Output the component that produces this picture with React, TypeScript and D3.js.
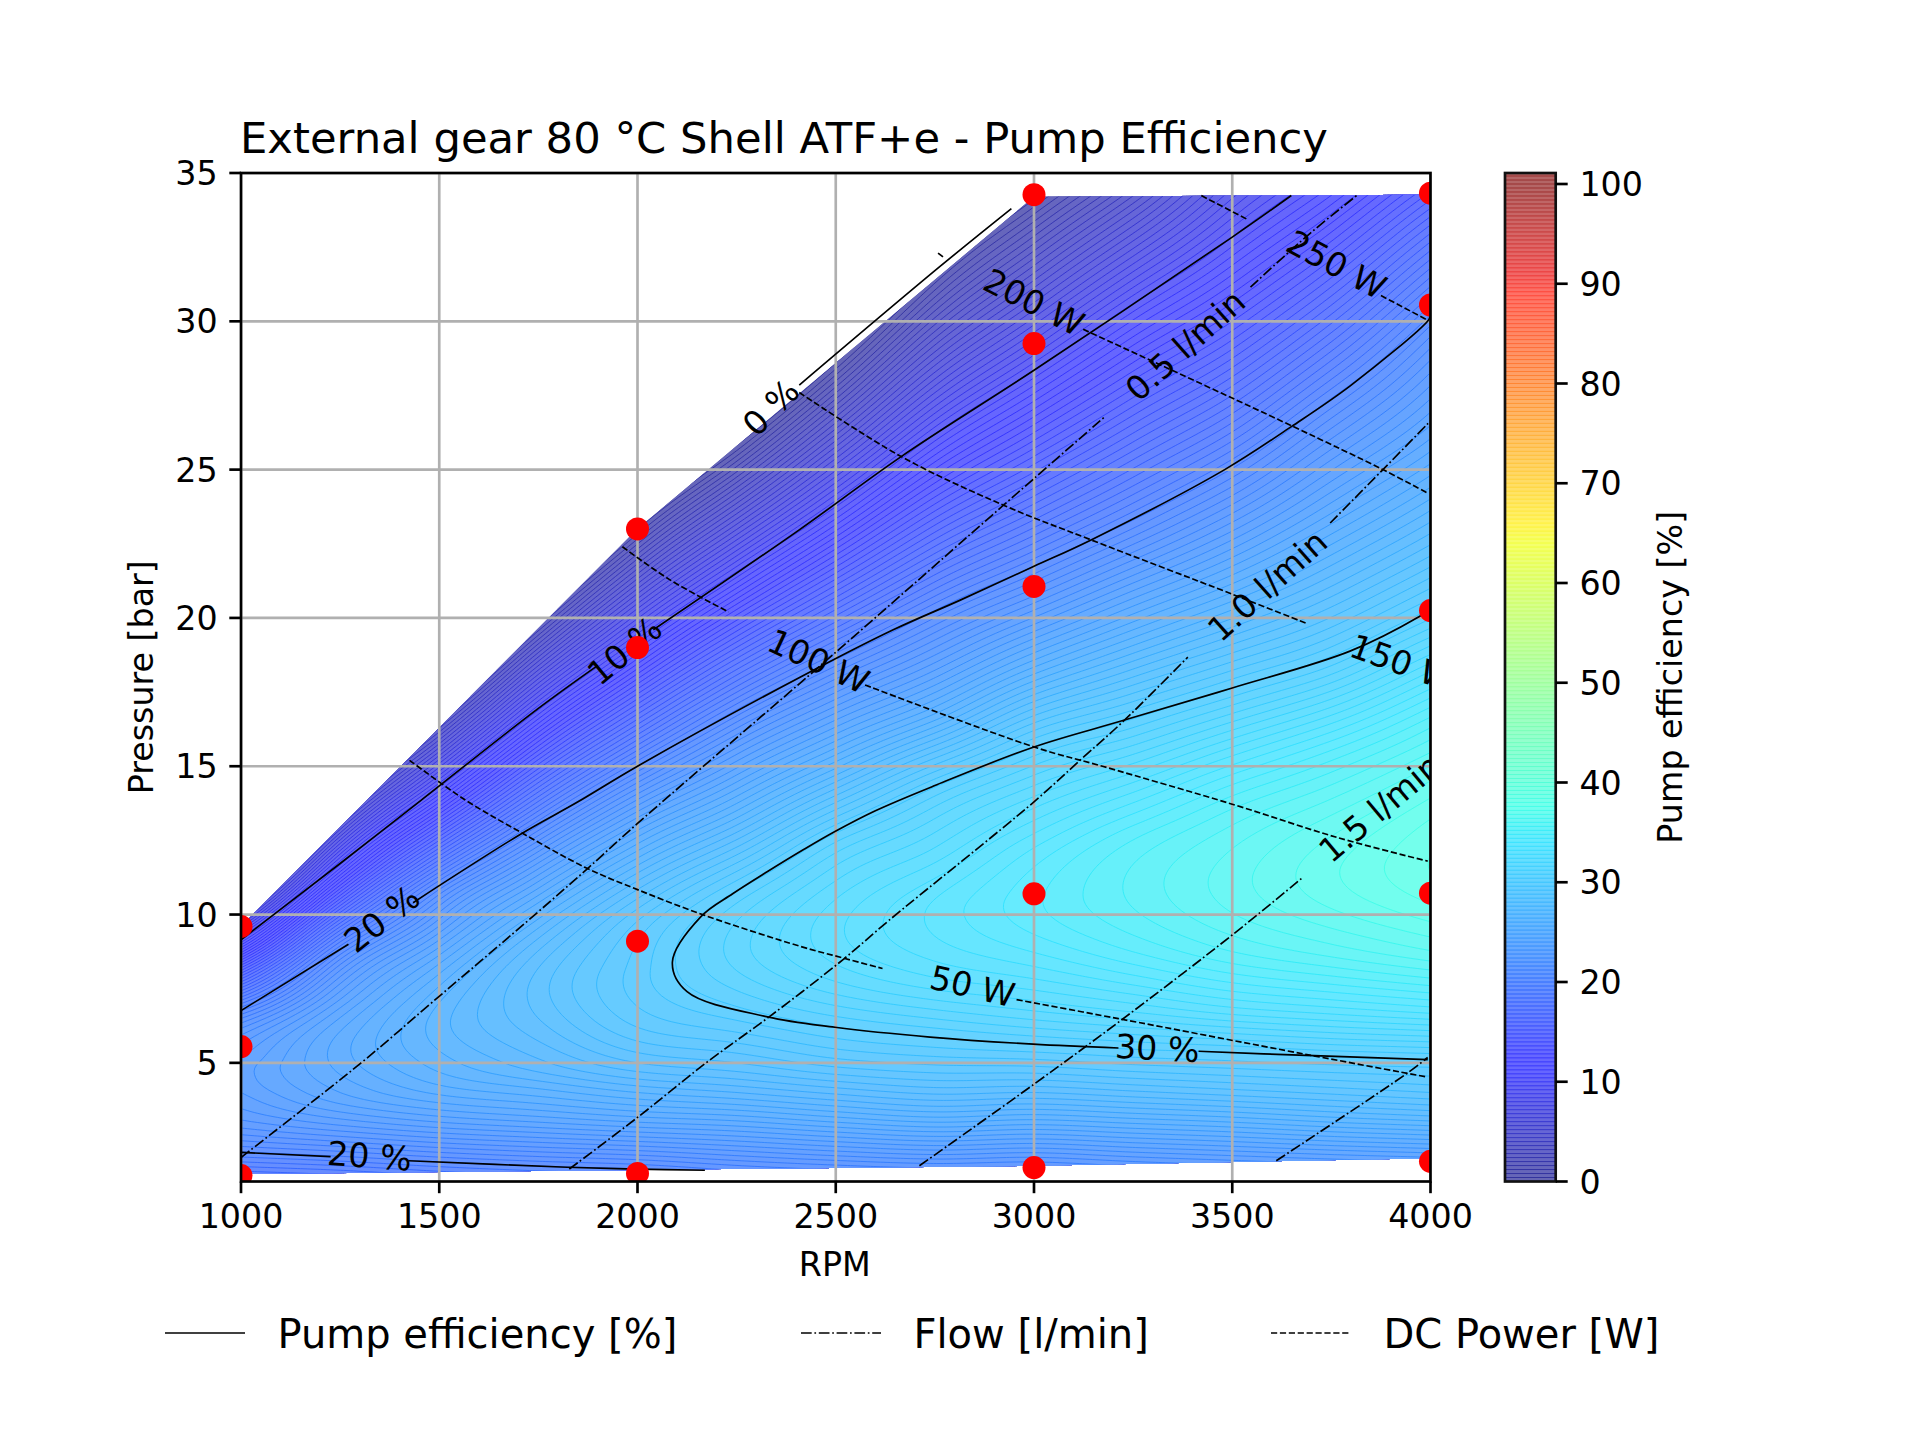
import { useMemo } from "react";
import * as d3 from "d3";

const titleText = "External gear 80 °C Shell ATF+e - Pump Efficiency";
const rpmTicks = [1000, 1500, 2000, 2500, 3000, 3500, 4000];
const pressureTicks = [5, 10, 15, 20, 25, 30, 35];
const barTicks = [0, 10, 20, 30, 40, 50, 60, 70, 80, 90, 100];

// measured operating points [rpm, bar]
const measured: [number, number][] = [
  [1000, 1.2], [1000, 5.55], [1000, 9.6],
  [2000, 1.27], [2000, 9.1], [2000, 19.0], [2000, 23.0],
  [3000, 1.47], [3000, 10.7], [3000, 21.06], [3000, 29.25], [3000, 34.27],
  [4000, 1.68], [4000, 10.72], [4000, 20.25], [4000, 30.55], [4000, 34.32],
];
// outline of the filled area
const fieldOutline: [number, number][] = [
  [1000, 1.25], [2000, 1.39], [3000, 1.53], [4000, 1.78], [4000, 34.27], [3000, 34.2], [2000, 23], [1000, 9.6],
];

// efficiency read along each rpm column: [bar, %]
const effColumnRpm = [1000, 1250, 1500, 1750, 2000, 2250, 2500, 2750, 3000, 3250, 3500, 3750, 4000];
const eff1000 = [[1, 17.5], [2, 20], [3, 21.9], [4, 22.8], [4.5, 23], [5, 22.9], [6, 21.9], [6.76, 20], [8, 15.3], [9.15, 10], [11.2, 1], [37, -100]];
const eff1250 = [[1, 17.8], [1.85, 20], [3, 22.6], [4, 24], [5.6, 24.6], [7, 23.4], [8.8, 20], [11.8, 10], [14.8, 0], [37, -70]];
const eff1500 = [[1, 18.3], [1.66, 20], [3, 23.2], [4, 24.9], [5, 25.8], [6.5, 26.2], [8, 25.2], [9.5, 23], [11, 20], [14.3, 10], [17.6, 0], [37, -60]];
const eff1750 = [[1, 18.7], [1.52, 20], [3, 23.6], [4, 25.4], [5, 26.7], [7.3, 27.8], [9, 27], [11, 24.2], [13, 20], [16.9, 10], [20.6, 0], [37, -44]];
const eff2000 = [[1, 19], [1.42, 20], [3, 24], [4, 26], [5, 27.6], [6.5, 29], [8.1, 29.4], [10, 28.6], [12.5, 25], [15, 20], [19.3, 10], [23.5, 0], [37, -32]];
const eff2250 = [[1, 19.5], [1.5, 20.7], [3, 24.3], [4, 26.4], [5, 28], [6.9, 30], [8.9, 31], [10.8, 30], [13.5, 26], [16.9, 20], [21.55, 10], [26, 0], [37, -24]];
const eff2500 = [[1, 19.8], [3, 24.8], [4, 26.9], [5, 28.6], [6.2, 30], [8, 31.8], [9.5, 32.3], [11, 31.7], [12.75, 30], [15.5, 25.4], [18.6, 20], [23.75, 10], [28.8, 0], [37, -16]];
const eff2750 = [[1, 20], [3, 25.2], [4, 27.3], [5, 28.9], [5.85, 30], [8, 32.5], [10.1, 33.3], [12, 32.2], [14.3, 30], [17, 25.2], [20.25, 20], [26.2, 10], [32, 0], [37, -8]];
const eff3000 = [[1, 20], [1.5, 21.2], [3, 25], [4, 27.2], [5, 29], [5.63, 30], [7, 31.9], [9, 33.8], [10.6, 34.3], [12.5, 33.4], [15.65, 30], [18.7, 25], [21.74, 20], [28.35, 10], [34.6, 0], [37, -4]];
const eff3250 = [[1, 20.3], [3, 25.3], [4, 27.5], [5, 29.3], [5.46, 30], [7, 32.4], [9, 34.6], [11.1, 35.3], [13, 34.4], [16.6, 30], [20, 25], [23.3, 20], [30.6, 10], [37, 0]];
const eff3500 = [[1, 20.6], [3, 25.6], [4, 27.8], [5, 29.5], [5.35, 30], [7, 33], [9, 35.4], [11.4, 36.2], [14, 34.8], [17.64, 30], [21.3, 25], [25.04, 20], [32.84, 10], [37, 5]];
const eff3750 = [[1, 20.8], [3, 26], [4, 28.1], [5, 29.7], [5.2, 30], [7, 33.4], [9, 36], [11.7, 37.1], [15, 35], [18.7, 30], [23, 25], [27.4, 20], [35.2, 10], [37, 8]];
const eff4000 = [[1, 21], [3, 26.3], [4, 28.4], [5.1, 30], [7, 33.8], [9, 36.6], [12, 38], [16, 35.5], [20.3, 30], [25, 25], [30.2, 20], [36, 12], [37, 10]];
const effColumns = [eff1000, eff1250, eff1500, eff1750, eff2000, eff2250, eff2500, eff2750, eff3000, eff3250, eff3500, eff3750, eff4000];

// iso-lines, [rpm, bar], split where a label sits
const effLines: [number, number][][] = [
  [[2408, 27.85], [2763, 31.85], [2943, 33.8]],
  [[1000, 9.15], [1250, 11.72], [1454, 13.85], [1750, 16.95], [1900, 18.4]],
  [[2040, 19.6], [2408, 22.97], [2665, 25.44], [3000, 28.35], [3500, 32.84], [3649, 34.24]],
  [[1000, 6.76], [1271, 9.0]],
  [[1434, 10.4], [1704, 12.7], [1850, 13.8], [2000, 15], [2410, 18], [2645, 19.6], [2814, 20.6], [3000, 21.74], [3144, 22.63], [3481, 25], [3649, 26.45], [3800, 27.85], [3994, 30.03], [4000, 30.2]],
  [[1000, 1.98], [1226, 1.84]],
  [[1422, 1.7], [1823, 1.48], [2000, 1.42], [2170, 1.38]],
  [[3213, 5.5], [2998, 5.63], [2738, 5.87], [2498, 6.2], [2328, 6.55], [2125, 7.4], [2088, 8.4], [2160, 9.93], [2240, 10.7], [2328, 11.45], [2420, 12.2], [2498, 12.8], [2600, 13.5], [2750, 14.35], [3000, 15.65], [3224, 16.54], [3500, 17.64], [3797, 18.88], [3972, 20.05], [4000, 20.3]],
  [[3415, 5.39], [3688, 5.25], [3993, 5.11]],
];
const flowLines: [number, number][][] = [
  [[1000, 1.81], [1303, 5], [1483, 7.05], [1746, 10.05], [1874, 11.55], [2000, 13.07], [2492, 18.75], [2923, 23.8], [3000, 24.7], [3180, 26.8]],
  [[3546, 31.15], [3695, 32.95], [3814, 34.24]],
  [[1828, 1.42], [2000, 3.16], [2173, 5], [2332, 6.55], [2520, 8.5], [2634, 9.8], [3000, 13.8], [3120, 15.25], [3224, 16.5], [3388, 18.68]],
  [[3747, 23.2], [3880, 25], [3994, 26.56]],
  [[2711, 1.53], [3000, 4.28], [3218, 6.42], [3500, 9.31], [3677, 11.24]],
  [[3611, 1.7], [3939, 4.63], [3993, 5.18]],
];
const powerLines: [number, number][][] = [
  [[1425, 15.2], [1566, 13.86], [1710, 12.74], [1874, 11.55], [2000, 10.84], [2168, 9.98], [2410, 8.93], [2520, 8.53], [2618, 8.18]],
  [[2956, 7.13], [3213, 6.49], [3688, 5.28], [3993, 4.52]],
  [[1962, 22.4], [2080, 21.3], [2230, 20.2]],
  [[2574, 17.74], [3000, 15.65], [3175, 14.99], [3500, 13.72], [3764, 12.6], [3993, 11.8]],
  [[2408, 27.6], [2665, 25.44], [2923, 23.8], [3144, 22.63], [3500, 20.8], [3690, 19.8]],
  [[3124, 29.73], [3654, 26.45], [3880, 25], [3994, 24.2]],
  [[3422, 34.24], [3536, 33.45]],
  [[3875, 30.87], [3994, 30.03]],
  [[2758, 32.3], [2773, 32.15]],
];
const lineLabels: { text: string; rpm: number; bar: number; angle: number }[] = [
  { text: "0 %", rpm: 2336, bar: 27.1, angle: -45 },
  { text: "10 %", rpm: 1967, bar: 18.9, angle: -40 },
  { text: "20 %", rpm: 1355, bar: 9.86, angle: -38 },
  { text: "20 %", rpm: 1324, bar: 1.87, angle: 4 },
  { text: "30 %", rpm: 3311, bar: 5.5, angle: 3 },
  { text: "50 W", rpm: 2845, bar: 7.59, angle: 13 },
  { text: "100 W", rpm: 2457, bar: 18.55, angle: 25 },
  { text: "150 W", rpm: 3928, bar: 18.5, angle: 20 },
  { text: "200 W", rpm: 3000, bar: 30.65, angle: 27 },
  { text: "250 W", rpm: 3763, bar: 31.92, angle: 28 },
  { text: "0.5 l/min", rpm: 3381, bar: 29.2, angle: -42 },
  { text: "1.0 l/min", rpm: 3588, bar: 21.1, angle: -42 },
  { text: "1.5 l/min", rpm: 3872, bar: 13.6, angle: -40 },
];
const legendItems = [
  { label: "Pump efficiency [%]", x: 165, dash: "none" },
  { label: "Flow [l/min]", x: 801, dash: "10.7 2.7 1.7 2.7" },
  { label: "DC Power [W]", x: 1271, dash: "6.2 2.7" },
];

const jetR = d3.scaleLinear([0, 0.35, 0.66, 0.89, 1], [0, 0, 1, 1, 0.5]).clamp(true);
const jetG = d3.scaleLinear([0, 0.125, 0.375, 0.64, 0.91, 1], [0, 0, 1, 1, 0, 0]).clamp(true);
const jetB = d3.scaleLinear([0, 0.11, 0.34, 0.65, 1], [0.5, 1, 1, 0, 0]).clamp(true);
// colours sit on white with alpha, drawn opaque because the bands stack
const jetOnWhite = (v: number, alpha: number) => {
  const t = v / 100;
  const ch = (c: number) => Math.round(255 * (c * alpha + 1 - alpha));
  return d3.rgb(ch(jetR(t)), ch(jetG(t)), ch(jetB(t))).formatHex();
};

// cubic hermite through [x, y] knots with finite difference tangents
const hermite = (pts: number[][], x: number) => {
  const n = pts.length;
  const i = Math.max(0, Math.min(n - 2, d3.bisectRight(pts.map((d) => d[0]), x) - 1));
  const tangent = (k: number) => {
    const a = pts[Math.max(0, k - 1)];
    const b = pts[Math.min(n - 1, k + 1)];
    return (b[1] - a[1]) / (b[0] - a[0]);
  };
  const [x0, y0] = pts[i];
  const [x1, y1] = pts[i + 1];
  const h = x1 - x0;
  const u = (x - x0) / h;
  return (
    (2 * u * u * u - 3 * u * u + 1) * y0 +
    (u * u * u - 2 * u * u + u) * h * tangent(i) +
    (-2 * u * u * u + 3 * u * u) * y1 +
    (u * u * u - u * u) * h * tangent(i + 1)
  );
};

const width = 1920;
const height = 1440;
const margin = { top: 173, right: 1430.5, bottom: 1181.5, left: 241 };
const fontFamily = "DejaVu Sans";

export default function App() {
  const x = d3.scaleLinear([1000, 4000], [margin.left, margin.right]);
  const y = d3.scaleLinear([1, 35], [margin.bottom, margin.top]);
  const barY = d3.scaleLinear([0, 100], [1181.5, 184]);
  const levels = d3.range(0, 101, 0.4);

  const bands = useMemo(() => {
    const nx = 360;
    const ny = 340;
    const gridRpm = d3.scaleLinear([0, nx - 1], [1000, 4000]);
    const gridBar = d3.scaleLinear([0, ny - 1], [1, 37]);
    const values = new Float64Array(nx * ny);
    for (let j = 0; j < ny; j++) {
      const bar = gridBar(j);
      const col = effColumnRpm.map((r, k) => [r, hermite(effColumns[k], bar)]);
      for (let i = 0; i < nx; i++) values[j * nx + i] = hermite(col, gridRpm(i));
    }
    const toScreen = d3.geoTransform({
      point(px, py) {
        this.stream.point(x(gridRpm(px - 0.5)), y(gridBar(py - 0.5)));
      },
    });
    const path = d3.geoPath(toScreen);
    const contours = d3.contours().size([nx, ny]).thresholds(levels)(values as unknown as number[]);
    return contours
      .filter((c) => c.coordinates.length > 0)
      .map((c) => ({ value: c.value, d: path(c) ?? "" }));
  }, []);

  const line = d3
    .line<[number, number]>()
    .x((d) => x(d[0]))
    .y((d) => y(d[1]))
    .curve(d3.curveCatmullRom);
  const outlinePath = d3
    .line<[number, number]>()
    .x((d) => x(d[0]))
    .y((d) => y(d[1]))
    .curve(d3.curveLinearClosed)(fieldOutline) ?? "";

  const text = { fontFamily, fill: "#000" };

  return (
    <svg width={width} height={height} style={{ position: "absolute", left: 0, top: 0, background: "#fff" }}>
      <defs>
        <clipPath id="axes-clip">
          <rect x={margin.left} y={margin.top} width={margin.right - margin.left} height={margin.bottom - margin.top} />
        </clipPath>
        <clipPath id="hull-clip">
          <path d={outlinePath} />
        </clipPath>
      </defs>

      <text x={margin.left - 1} y={153} fontSize={43.3} {...text}>{titleText}</text>

      <g clipPath="url(#axes-clip)">
        <g clipPath="url(#hull-clip)">
          <path d={outlinePath} fill={jetOnWhite(0, 0.6)} />
          {bands.map((b) => (
            <path
              key={b.value}
              d={b.d}
              fill={jetOnWhite(b.value + 0.2, 0.6)}
              stroke={jetOnWhite(b.value, 0.84)}
              strokeWidth={0.8}
            />
          ))}
        </g>
        {/* grid */}
        {rpmTicks.map((t) => (
          <line key={t} x1={x(t)} x2={x(t)} y1={margin.top} y2={margin.bottom} stroke="#b0b0b0" strokeWidth={2.67} />
        ))}
        {pressureTicks.map((t) => (
          <line key={t} x1={margin.left} x2={margin.right} y1={y(t)} y2={y(t)} stroke="#b0b0b0" strokeWidth={2.67} />
        ))}
        {effLines.map((l, i) => (
          <path key={i} d={line(l) ?? ""} fill="none" stroke="#000" strokeWidth={1.67} />
        ))}
        {flowLines.map((l, i) => (
          <path key={i} d={line(l) ?? ""} fill="none" stroke="#000" strokeWidth={1.67} strokeDasharray="10.7 2.7 1.7 2.7" />
        ))}
        {powerLines.map((l, i) => (
          <path key={i} d={line(l) ?? ""} fill="none" stroke="#000" strokeWidth={1.67} strokeDasharray="6.2 2.7" />
        ))}
        {lineLabels.map((l, i) => (
          <text
            key={i}
            transform={`translate(${x(l.rpm)},${y(l.bar)}) rotate(${l.angle})`}
            textAnchor="middle"
            dy="0.36em"
            fontSize={33.3}
            {...text}
          >
            {l.text}
          </text>
        ))}
        {measured.map(([r, b], i) => (
          <circle key={i} cx={x(r)} cy={y(b)} r={11.5} fill="#f00" />
        ))}
      </g>

      {/* axes */}
      <rect
        x={margin.left}
        y={margin.top}
        width={margin.right - margin.left}
        height={margin.bottom - margin.top}
        fill="none"
        stroke="#000"
        strokeWidth={2.67}
      />
      {rpmTicks.map((t) => (
        <g key={t}>
          <line x1={x(t)} x2={x(t)} y1={margin.bottom} y2={margin.bottom + 11.7} stroke="#000" strokeWidth={2.67} />
          <text x={x(t)} y={1228} textAnchor="middle" fontSize={33.3} {...text}>{t}</text>
        </g>
      ))}
      {pressureTicks.map((t) => (
        <g key={t}>
          <line x1={margin.left - 11.7} x2={margin.left} y1={y(t)} y2={y(t)} stroke="#000" strokeWidth={2.67} />
          <text x={margin.left - 23.4} y={y(t)} dy="0.365em" textAnchor="end" fontSize={33.3} {...text}>{t}</text>
        </g>
      ))}
      <text x={(margin.left + margin.right) / 2 - 1} y={1276} textAnchor="middle" fontSize={33.3} {...text}>RPM</text>
      <text
        transform={`translate(153,${(margin.top + margin.bottom) / 2}) rotate(-90)`}
        textAnchor="middle"
        fontSize={33.3}
        {...text}
      >
        Pressure [bar]
      </text>

      {/* colorbar */}
      {levels.map((l) => (
        <rect
          key={l}
          x={1505}
          width={50.7}
          y={barY(l + 0.4)}
          height={barY(l) - barY(l + 0.4)}
          fill={jetOnWhite(l + 0.2, 0.6)}
        />
      ))}
      {levels.map((l) => (
        <line key={l} x1={1505} x2={1555.7} y1={barY(l)} y2={barY(l)} stroke={jetOnWhite(l, 0.84)} strokeWidth={0.9} />
      ))}
      <rect x={1505} y={173} width={50.7} height={1181.5 - 173} fill="none" stroke="#111" strokeWidth={2.67} />
      {barTicks.map((t) => (
        <g key={t}>
          <line x1={1555.7} x2={1567.7} y1={barY(t)} y2={barY(t)} stroke="#000" strokeWidth={2.67} />
          <text x={1579.4} y={barY(t)} dy="0.365em" fontSize={33.3} {...text}>{t}</text>
        </g>
      ))}
      <text
        transform={`translate(1681.5,${(margin.top + margin.bottom) / 2}) rotate(-90)`}
        textAnchor="middle"
        fontSize={33.3}
        {...text}
      >
        Pump efficiency [%]
      </text>

      {/* legend */}
      {legendItems.map((l) => (
        <g key={l.label}>
          <line x1={l.x} x2={l.x + 80} y1={1333} y2={1333} stroke="#000" strokeWidth={1.67} strokeDasharray={l.dash} />
          <text x={l.x + 112.5} y={1348} fontSize={40} {...text}>{l.label}</text>
        </g>
      ))}
    </svg>
  );
}
